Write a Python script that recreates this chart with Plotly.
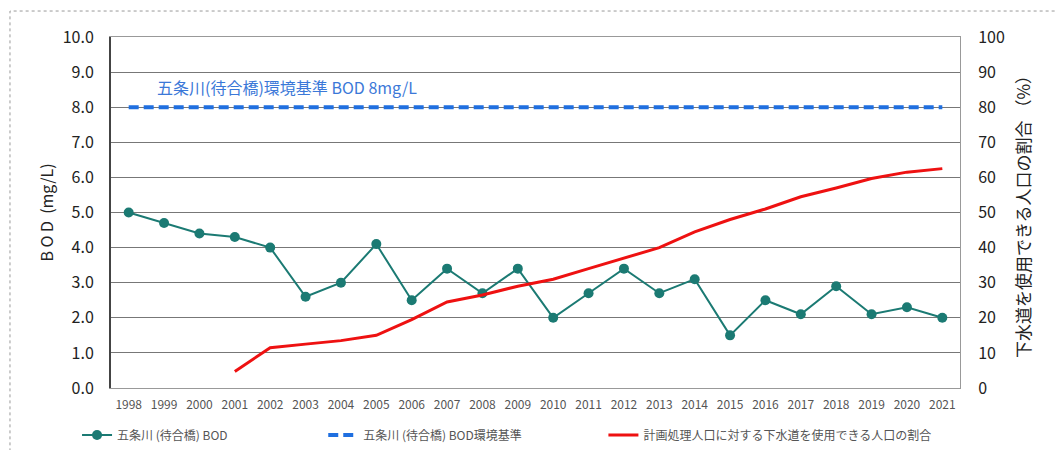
import plotly.graph_objects as go

years = [str(y) for y in range(1998, 2022)]
bod = [5.0, 4.7, 4.4, 4.3, 4.0, 2.6, 3.0, 4.1, 2.5, 3.4, 2.7, 3.4, 2.0, 2.7, 3.4, 2.7, 3.1, 1.5, 2.5, 2.1, 2.9, 2.1, 2.3, 2.0]
standard = [8.0] * len(years)
sewer_years = [str(y) for y in range(2001, 2022)]
sewer_pct = [4.7, 11.5, 12.5, 13.5, 15.0, 19.5, 24.5, 26.5, 29.0, 31.0, 34.0, 37.0, 40.0, 44.5, 48.0, 51.0, 54.5, 57.0, 59.7, 61.5, 62.5]

name_bod = "五条川 (待合橋) BOD"
name_std = "五条川 (待合橋) BOD環境基準"
name_sewer = "計画処理人口に対する下水道を使用できる人口の割合"
note = "五条川(待合橋)環境基準 BOD 8mg/L"

FONT = "Noto Sans CJK JP"

fig = go.Figure()
fig.add_trace(go.Scatter(x=years, y=bod, name=name_bod, mode="lines+markers",
                         line=dict(color="#1b7a73", width=2),
                         marker=dict(color="#1b7a73", size=10), legend="legend"))
fig.add_trace(go.Scatter(x=years, y=standard, name=name_std, mode="lines",
                         line=dict(color="#1f6fe0", width=4, dash="10px,5px"), legend="legend2"))
fig.add_trace(go.Scatter(x=sewer_years, y=sewer_pct, name=name_sewer, mode="lines",
                         line=dict(color="#ee1111", width=3), yaxis="y2", legend="legend3"))

fig.add_annotation(x=0.052, y=8.58, xref="paper", yref="y", text=note, showarrow=False,
                   xanchor="left", yanchor="middle",
                   font=dict(family=FONT, size=16, color="#3b78d8"))

leg_common = dict(orientation="h", yanchor="middle", y=-0.134, xanchor="left",
                  font=dict(size=12, color="#555555"), bgcolor="rgba(0,0,0,0)")

fig.update_layout(
    width=1056, height=442,
    margin=dict(l=103, r=104, t=29, b=62, autoexpand=False),
    paper_bgcolor="white", plot_bgcolor="white",
    font=dict(family=FONT, color="#333333"),
    showlegend=True,
    legend=dict(x=-0.04, **leg_common),
    legend2=dict(x=0.25, **leg_common),
    legend3=dict(x=0.58, **leg_common),
    xaxis=dict(type="category", range=[-0.5, 23.5], showgrid=False,
               showline=True, linecolor="#999999", linewidth=1, mirror=True,
               ticks="", ticklabelstandoff=6, tickfont=dict(size=12, color="#555555")),
    yaxis=dict(range=[0, 10], dtick=1, tickformat=".1f", showgrid=True,
               gridcolor="#777777", gridwidth=1, showline=True, linecolor="#444444",
               linewidth=2, ticks="", ticklabelstandoff=12,
               tickfont=dict(size=16, color="#222222"),
               title=dict(text="B O D  (mg/L)", font=dict(size=16, color="#222222"), standoff=5),
               zeroline=False, automargin=False),
    yaxis2=dict(range=[0, 100], dtick=10, overlaying="y", side="right", showgrid=False,
                showline=True, linecolor="#999999", ticks="", ticklabelstandoff=14,
                tickfont=dict(size=16, color="#222222"),
                title=dict(text="下水道を使用できる人口の割合 （%）", font=dict(size=17, color="#222222"), standoff=14),
                zeroline=False, automargin=False),
)

fig.add_shape(type="rect", xref="paper", yref="paper", x0=-0.119, x1=1.12, y0=-0.182, y1=1.074,
              line=dict(color="#999999", width=1, dash="dot"), fillcolor="rgba(0,0,0,0)")

fig.write_html("out.html")
